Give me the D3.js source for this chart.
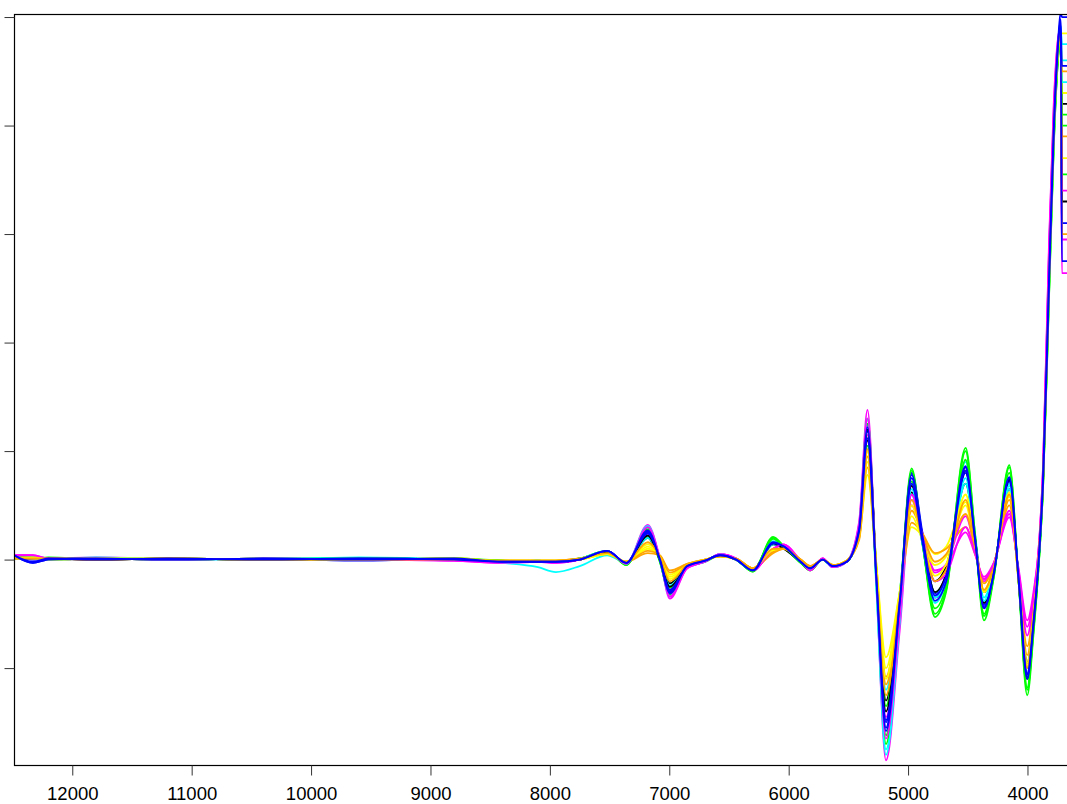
<!DOCTYPE html>
<html><head><meta charset="utf-8">
<script src="https://cdn.jsdelivr.net/npm/d3@7"></script>
<style>html,body{margin:0;padding:0;background:#fff;} svg{display:block;}</style>
</head><body>
<svg id="chart" width="1067" height="804"></svg>
<script>
// wavenumbers (cm-1), descending
const wavenumbers = [12488,12330,12200,11800,11200,10400,9600,8800,8400,8100,
  7950,7750,7520,7360,7180,7080,6995,6850,6700,6575,
  6440,6300,6130,6040,5900,5820,5715,5630,5515,5410,
  5340,5265,5185,5070,4970,4880,4775,4680,4518,4440,
  4364,4283,4152,4075,4002,3950,3900,3870,3820,3780,
  3745,3722,3712,3600];
const xTicks = [12000,11000,10000,9000,8000,7000,6000,5000,4000];
const yTicks = [-1,0,1,2,3,4,5];

const s01 = [0.02,0.02,0.00,0.01,0.00,0.01,0.00,0.01,-0.02,-0.01,
-0.02,0.00,0.07,-0.03,0.20,0.00,-0.22,-0.06,-0.01,0.04,
0.00,-0.09,0.14,0.10,-0.02,-0.07,0.00,-0.06,-0.02,0.25,
1.10,-0.12,-1.30,-0.34,0.62,0.21,-0.20,-0.06,0.70,0.20,
-0.30,-0.08,0.65,-0.15,-0.95,-0.52,0.10,0.70,2.50,3.90,
4.65,4.85,4.20,4.20];
const s02 = [0.04,0.04,0.01,0.02,0.01,0.00,0.01,-0.01,-0.03,-0.02,
-0.03,0.00,0.08,-0.04,0.32,0.02,-0.36,-0.08,-0.02,0.05,
0.01,-0.10,0.10,0.14,-0.01,-0.10,0.01,-0.07,-0.02,0.35,
1.38,-0.24,-1.85,-0.65,0.55,0.25,-0.10,-0.05,0.25,0.05,
-0.16,-0.03,0.39,-0.08,-0.56,-0.30,0.20,0.85,2.90,4.20,
4.80,4.90,2.64,2.64];
const s03 = [0.01,0.01,0.02,0.00,0.01,0.00,0.01,0.00,-0.01,-0.02,
-0.02,0.01,0.08,-0.05,0.28,-0.02,-0.30,-0.07,-0.02,0.04,
0.00,-0.11,0.21,0.12,-0.03,-0.10,0.00,-0.06,-0.02,0.30,
1.30,-0.16,-1.62,-0.39,0.84,0.16,-0.53,-0.29,1.03,0.24,
-0.56,-0.17,0.87,-0.19,-1.25,-0.69,0.05,0.65,2.40,3.80,
4.60,4.80,3.55,3.55];
const s04 = [0.04,-0.03,0.00,0.01,0.00,0.01,-0.01,0.01,-0.02,-0.02,
-0.02,0.00,0.08,-0.03,0.26,0.00,-0.30,-0.06,-0.01,0.04,
0.00,-0.10,0.16,0.12,-0.02,-0.08,0.00,-0.06,-0.02,0.28,
1.25,-0.15,-1.55,-0.38,0.80,0.25,-0.31,-0.13,0.85,0.20,
-0.44,-0.13,0.73,-0.18,-1.08,-0.59,0.10,0.72,2.55,3.95,
4.75,5.05,5.00,5.00];
const s05 = [0.02,0.02,0.00,0.02,0.00,0.00,0.02,0.00,-0.02,-0.01,
-0.02,0.01,0.07,-0.04,0.30,0.01,-0.33,-0.07,-0.02,0.05,
0.00,-0.10,0.17,0.12,-0.02,-0.09,0.00,-0.07,-0.02,0.30,
1.20,-0.28,-1.75,-0.53,0.70,0.15,-0.40,-0.20,0.90,0.25,
-0.40,-0.12,0.70,-0.20,-1.10,-0.60,0.10,0.72,2.50,3.90,
4.70,4.90,4.60,4.60];
const s06 = [0.02,0.01,0.00,0.01,0.01,0.00,0.00,0.01,-0.01,-0.01,
-0.01,0.00,0.05,-0.02,0.10,0.03,-0.14,-0.05,0.00,0.03,
0.00,-0.08,0.08,0.10,-0.01,-0.07,0.00,-0.05,-0.01,0.20,
0.78,-0.06,-0.90,-0.30,0.30,0.22,0.05,0.12,0.53,0.12,
-0.30,-0.08,0.60,-0.20,-1.00,-0.55,0.12,0.70,2.50,3.90,
4.65,4.80,4.30,4.30];
const s07 = [0.01,0.01,0.01,0.00,0.01,0.00,0.00,0.00,-0.01,-0.01,
-0.01,0.01,0.05,-0.02,0.06,0.04,-0.10,-0.04,0.00,0.03,
0.01,-0.08,0.06,0.10,0.00,-0.06,0.00,-0.05,-0.01,0.18,
0.85,-0.12,-1.08,-0.37,0.34,0.24,0.06,0.10,0.30,0.06,
-0.18,-0.04,0.50,-0.15,-0.80,-0.44,0.15,0.75,2.60,4.00,
4.70,4.90,3.90,3.90];
const s08 = [0.03,0.03,0.00,0.01,0.00,0.01,0.00,-0.01,-0.02,-0.02,
-0.02,0.00,0.07,-0.03,0.24,0.02,-0.28,-0.07,-0.02,0.05,
0.01,-0.10,0.10,0.13,-0.01,-0.09,0.01,-0.07,-0.02,0.28,
1.15,-0.15,-1.45,-0.48,0.50,0.19,-0.12,-0.04,0.40,0.10,
-0.20,-0.04,0.45,-0.12,-0.70,-0.38,0.18,0.80,2.80,4.10,
4.75,4.85,2.95,2.95];
const s09 = [0.02,0.01,0.01,0.01,0.00,0.01,0.01,0.00,-0.01,-0.02,
-0.02,0.01,0.07,-0.04,0.22,0.00,-0.26,-0.06,-0.01,0.04,
0.00,-0.10,0.19,0.11,-0.02,-0.09,0.00,-0.06,-0.02,0.24,
1.05,-0.15,-1.35,-0.32,0.72,0.14,-0.45,-0.24,0.92,0.21,
-0.50,-0.15,0.80,-0.19,-1.18,-0.65,0.06,0.66,2.45,3.85,
4.62,4.82,4.10,4.10];
const s10 = [0.03,0.00,0.01,0.00,0.01,0.00,0.00,0.01,-0.02,-0.02,
-0.02,0.00,0.08,-0.03,0.25,0.01,-0.29,-0.06,-0.01,0.04,
0.00,-0.10,0.15,0.12,-0.02,-0.08,0.00,-0.06,-0.02,0.27,
1.18,-0.16,-1.50,-0.38,0.75,0.20,-0.35,-0.18,0.80,0.19,
-0.42,-0.12,0.72,-0.17,-1.05,-0.58,0.10,0.72,2.55,3.95,
4.72,4.95,3.10,3.10];
const s11 = [0.02,0.01,0.00,0.01,0.01,0.00,0.01,0.00,-0.03,-0.07,
-0.115,-0.06,0.04,-0.03,0.20,0.01,-0.24,-0.06,-0.01,0.04,
0.00,-0.09,0.14,0.11,-0.02,-0.08,0.00,-0.06,-0.02,0.24,
1.00,-0.10,-1.20,-0.30,0.60,0.15,-0.30,-0.15,0.70,0.18,
-0.35,-0.10,0.65,-0.17,-1.00,-0.55,0.10,0.70,2.50,3.90,
4.68,4.88,4.40,4.40];
const s12 = [0.01,0.02,0.00,0.01,0.00,0.01,0.00,0.01,-0.01,-0.01,
-0.01,0.00,0.05,-0.02,0.12,0.03,-0.16,-0.05,0.00,0.03,
0.00,-0.08,0.09,0.10,-0.01,-0.07,0.00,-0.05,-0.01,0.21,
0.90,-0.05,-1.00,-0.30,0.40,0.18,-0.05,0.03,0.50,0.11,
-0.28,-0.08,0.58,-0.18,-0.95,-0.52,0.12,0.70,2.50,3.90,
4.65,4.82,3.70,3.70];
const s13 = [0.02,0.01,0.01,0.00,0.01,0.00,0.01,0.00,-0.01,-0.01,
-0.01,0.01,0.05,-0.02,0.08,0.04,-0.12,-0.04,0.00,0.03,
0.01,-0.08,0.07,0.10,0.00,-0.06,0.00,-0.05,-0.01,0.20,
0.95,-0.10,-1.15,-0.35,0.45,0.24,-0.02,0.05,0.42,0.10,
-0.22,-0.05,0.55,-0.16,-0.88,-0.48,0.14,0.74,2.58,3.98,
4.70,4.88,4.50,4.50];
const s14 = [0.03,0.02,0.01,0.00,0.01,0.00,0.01,0.00,-0.02,-0.02,
-0.02,0.00,0.07,-0.03,0.22,0.00,-0.25,-0.06,-0.01,0.04,
0.00,-0.09,0.15,0.10,-0.02,-0.08,0.00,-0.06,-0.02,0.26,
1.20,-0.10,-1.40,-0.36,0.68,0.19,-0.30,-0.13,0.82,0.21,
-0.40,-0.12,0.74,-0.18,-1.10,-0.60,0.10,0.70,2.52,3.92,
4.68,4.86,3.30,3.30];
const s15 = [0.01,0.02,0.01,0.01,0.00,0.01,0.00,0.01,-0.01,-0.02,
-0.02,0.01,0.08,-0.05,0.30,-0.01,-0.32,-0.07,-0.02,0.04,
0.00,-0.11,0.20,0.12,-0.03,-0.10,0.00,-0.06,-0.02,0.30,
1.25,-0.22,-1.70,-0.44,0.82,0.16,-0.50,-0.27,1.00,0.24,
-0.52,-0.16,0.85,-0.18,-1.20,-0.66,0.05,0.65,2.42,3.82,
4.60,4.80,4.00,4.00];
const s16 = [0.02,0.02,0.00,0.01,0.00,0.01,0.01,0.00,-0.02,-0.01,
-0.02,0.01,0.08,-0.04,0.31,0.01,-0.34,-0.07,-0.02,0.05,
0.00,-0.10,0.16,0.12,-0.02,-0.09,0.00,-0.07,-0.02,0.31,
1.30,-0.25,-1.80,-0.58,0.65,0.15,-0.35,-0.18,0.75,0.18,
-0.38,-0.11,0.68,-0.16,-1.00,-0.55,0.10,0.72,2.50,3.90,
4.70,4.92,4.75,4.75];
const s17 = [0.04,0.04,0.01,0.01,0.00,0.01,0.00,-0.01,-0.03,-0.02,
-0.03,0.00,0.08,-0.04,0.30,0.02,-0.34,-0.08,-0.02,0.05,
0.01,-0.10,0.10,0.14,-0.01,-0.10,0.01,-0.07,-0.02,0.33,
1.30,-0.18,-1.65,-0.53,0.60,0.22,-0.20,-0.13,0.30,0.06,
-0.18,-0.04,0.42,-0.10,-0.62,-0.34,0.20,0.84,2.85,4.15,
4.78,4.88,3.40,3.40];
const s18 = [0.02,0.02,0.00,0.01,0.01,0.00,0.00,0.01,-0.01,-0.01,
-0.01,0.00,0.05,-0.02,0.14,0.03,-0.18,-0.05,0.00,0.03,
0.00,-0.08,0.09,0.10,-0.01,-0.07,0.00,-0.05,-0.01,0.22,
1.00,-0.05,-1.10,-0.30,0.50,0.18,-0.15,-0.04,0.60,0.15,
-0.30,-0.09,0.62,-0.18,-0.98,-0.54,0.12,0.70,2.50,3.90,
4.66,4.84,4.85,4.85];
const s19 = [0.01,0.01,0.01,0.00,0.01,0.00,0.00,0.00,-0.01,-0.01,
-0.01,0.01,0.06,-0.02,0.16,0.03,-0.20,-0.05,0.00,0.03,
0.01,-0.08,0.10,0.10,0.00,-0.06,0.00,-0.05,-0.01,0.22,
1.02,-0.12,-1.25,-0.35,0.55,0.18,-0.20,-0.09,0.55,0.14,
-0.28,-0.08,0.60,-0.20,-1.00,-0.55,0.13,0.72,2.55,3.95,
4.70,4.86,3.00,3.00];
const s20 = [0.04,-0.02,0.01,0.00,0.01,0.00,0.01,0.00,-0.02,-0.02,
-0.02,0.00,0.08,-0.03,0.27,0.00,-0.31,-0.06,-0.01,0.04,
0.00,-0.10,0.16,0.12,-0.02,-0.08,0.00,-0.06,-0.02,0.28,
1.22,-0.18,-1.58,-0.40,0.78,0.22,-0.33,-0.15,0.86,0.20,
-0.45,-0.13,0.75,-0.18,-1.10,-0.60,0.10,0.72,2.55,3.95,
4.74,4.98,4.55,4.55];
const s21 = [0.04,-0.03,0.00,0.01,0.00,0.01,0.00,0.01,-0.02,-0.02,
-0.02,0.00,0.08,-0.03,0.24,0.01,-0.28,-0.06,-0.01,0.04,
0.00,-0.10,0.15,0.12,-0.02,-0.08,0.00,-0.06,-0.02,0.26,
1.12,-0.18,-1.48,-0.39,0.70,0.16,-0.38,-0.20,0.82,0.19,
-0.45,-0.13,0.76,-0.16,-1.06,-0.58,0.10,0.72,2.55,3.95,
4.72,4.95,2.75,2.75];

const seriesColors = ["#000000","#FF00FF","#00FF00","#0000FF","#00FFFF","#FFFF00","#FFA500",
  "#FF00FF","#00FF00","#0000FF","#00FFFF","#FFFF00","#FFA500","#000000",
  "#00FF00","#00FFFF","#FF00FF","#FFFF00","#FFA500","#0000FF","#0000FF"];
const series = [s01,s02,s03,s04,s05,s06,s07,s08,s09,s10,s11,s12,s13,s14,s15,s16,s17,s18,s19,s20,s21];

const svg = d3.select("#chart");
const pL = 14, pT = 14, pR = 1067, pB = 765;
const x = d3.scaleLinear().domain([12488, 3669]).range([pL, pR]);
const y = d3.scaleLinear().domain([-1.893, 5.028]).range([pB, pT]);

svg.append("defs").append("clipPath").attr("id","clip")
  .append("rect").attr("x", pL).attr("y", pT).attr("width", pR - pL + 2).attr("height", pB - pT);

const line = d3.line()
  .x((d, i) => x(wavenumbers[i]))
  .y(d => y(d))
  .curve(d3.curveMonotoneX);

const g = svg.append("g").attr("clip-path","url(#clip)");
series.forEach((s, k) => {
  g.append("path").datum(s)
    .attr("fill","none")
    .attr("stroke", seriesColors[k])
    .attr("stroke-width", 1.8)
    .attr("stroke-linejoin","round")
    .attr("d", line);
});

// frame
svg.append("rect").attr("x", pL + 0.5).attr("y", pT + 0.5)
  .attr("width", pR + 2 - pL).attr("height", pB - pT)
  .attr("fill","none").attr("stroke","#000").attr("stroke-width",1.2);

const xAxis = svg.append("g").attr("transform", `translate(0,${pB + 0.5})`)
  .call(d3.axisBottom(x).tickValues(xTicks).tickSize(10).tickPadding(11).tickFormat(d3.format("d")));
xAxis.select(".domain").remove();
xAxis.selectAll("line").attr("stroke","#333");
xAxis.selectAll("text").attr("font-family","'Liberation Sans', Arial, sans-serif").attr("font-size","18.5px").attr("fill","#000");

const yAxis = svg.append("g").attr("transform", `translate(${pL + 0.5},0)`)
  .call(d3.axisLeft(y).tickValues(yTicks).tickSize(10).tickFormat(""));
yAxis.select(".domain").remove();
yAxis.selectAll("line").attr("stroke","#333");
</script>
</body></html>
